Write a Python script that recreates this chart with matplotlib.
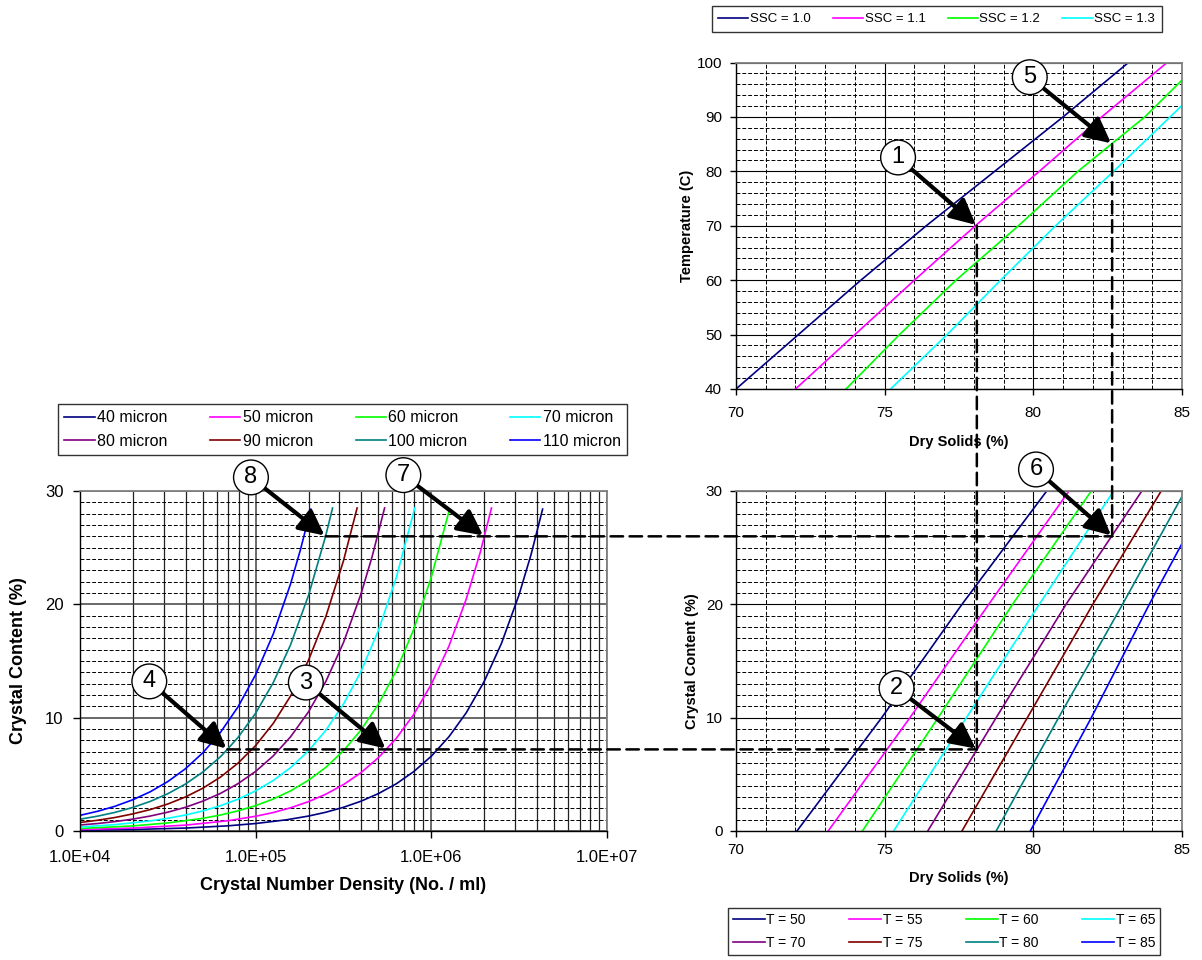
import numpy as np
import matplotlib
matplotlib.use('Agg')
import matplotlib.pyplot as plt
from matplotlib.patches import ConnectionPatch
from matplotlib.ticker import MultipleLocator, FixedLocator, LogLocator, NullFormatter, FixedFormatter

plt.rcParams['font.family'] = ['Liberation Sans', 'DejaVu Sans']

# ---------------- data: Temperature vs Dry Solids (top right) ----------------
temp_levels = [40, 50, 60, 70, 80, 90, 100]
ssc_labels = ['SSC = 1.0', 'SSC = 1.1', 'SSC = 1.2', 'SSC = 1.3']
ds_ssc_10 = [70.0, 72.1, 74.2, 76.4, 78.7, 81.0, 83.2]
ds_ssc_11 = [72.0, 74.0, 76.0, 78.05, 80.2, 82.3, 84.5]
ds_ssc_12 = [73.7, 75.5, 77.4, 79.5, 81.5, 83.75, 85.6]
ds_ssc_13 = [75.2, 77.1, 78.9, 80.75, 82.7, 84.6, 86.5]
ssc_colors = ['#000080', '#FF00FF', '#00FF00', '#00FFFF']

# ---------------- data: Crystal content vs Dry Solids (bottom right) ----------------
cc_levels = [0, 10, 20, 30]
t_labels = ['T = 50', 'T = 55', 'T = 60', 'T = 65', 'T = 70', 'T = 75', 'T = 80', 'T = 85']
ds_t50 = [72.05, 74.9, 77.6, 80.45]
ds_t55 = [73.1, 75.85, 78.5, 81.2]
ds_t60 = [74.25, 76.8, 79.3, 81.95]
ds_t65 = [75.3, 77.75, 80.2, 82.7]
ds_t70 = [76.45, 78.75, 81.1, 83.65]
ds_t75 = [77.6, 79.8, 82.0, 84.3]
ds_t80 = [78.75, 80.85, 83.0, 85.1]
ds_t85 = [79.9, 81.95, 83.9, 85.95]

# ---------------- data: Crystal content vs number density (left) ----------------
size_labels = ['40 micron', '50 micron', '60 micron', '70 micron',
               '80 micron', '90 micron', '100 micron', '110 micron']
n_40 = [1e4, 2e4, 4e4, 7e4, 1e5, 1.5e5, 2e5, 2.5e5, 3.16e5, 3.98e5, 5.01e5, 6.31e5,
        7.94e5, 1e6, 1.26e6, 1.58e6, 2e6, 2.51e6, 3.16e6, 3.7e6, 4.3e6]
cc_40 = [0.07, 0.13, 0.26, 0.46, 0.66, 0.99, 1.32, 1.65, 2.09, 2.63, 3.31, 4.16,
         5.24, 6.6, 8.32, 10.43, 13.2, 16.57, 20.86, 24.42, 28.4]
n_50 = [1e4, 2e4, 4e4, 7e4, 1e5, 1.26e5, 1.58e5, 2e5, 2.51e5, 3.16e5, 3.98e5, 5.01e5,
        6.31e5, 7.94e5, 1e6, 1.26e6, 1.58e6, 1.9e6, 2.2e6]
cc_50 = [0.13, 0.26, 0.52, 0.91, 1.3, 1.63, 2.05, 2.59, 3.25, 4.09, 5.15, 6.49,
         8.17, 10.28, 12.95, 16.32, 20.46, 24.6, 28.5]
n_60 = [1e4, 2e4, 3.16e4, 5.01e4, 6.31e4, 7.94e4, 1e5, 1.26e5, 1.58e5, 2e5, 2.51e5,
        3.16e5, 3.98e5, 5.01e5, 6.31e5, 7.94e5, 1e6, 1.27e6]
cc_60 = [0.22, 0.45, 0.71, 1.12, 1.41, 1.78, 2.24, 2.82, 3.54, 4.48, 5.62,
         7.08, 8.92, 11.22, 14.13, 17.79, 22.4, 28.4]
n_70 = [1e4, 1.58e4, 2.51e4, 3.16e4, 3.98e4, 5.01e4, 6.31e4, 7.94e4, 1e5, 1.26e5,
        1.58e5, 2e5, 2.51e5, 3.16e5, 3.98e5, 5.01e5, 6.31e5, 8.05e5]
cc_70 = [0.35, 0.56, 0.89, 1.12, 1.41, 1.77, 2.23, 2.81, 3.54, 4.46,
         5.59, 7.08, 8.89, 11.19, 14.09, 17.74, 22.34, 28.5]
n_80 = [1e4, 1.26e4, 1.58e4, 2e4, 2.51e4, 3.16e4, 3.98e4, 5.01e4, 6.31e4, 7.94e4,
        1e5, 1.26e5, 1.58e5, 2e5, 2.51e5, 3.16e5, 3.98e5, 4.6e5, 5.42e5]
cc_80 = [0.53, 0.66, 0.83, 1.05, 1.32, 1.66, 2.09, 2.64, 3.32, 4.18,
         5.26, 6.63, 8.31, 10.52, 13.2, 16.62, 20.93, 24.2, 28.5]
n_90 = [1e4, 1.26e4, 1.58e4, 2e4, 2.51e4, 3.16e4, 3.98e4, 5.01e4, 6.31e4, 7.94e4,
        1e5, 1.26e5, 1.58e5, 2e5, 2.51e5, 3.16e5, 3.78e5]
cc_90 = [0.75, 0.95, 1.19, 1.51, 1.89, 2.38, 3.0, 3.78, 4.76, 5.99,
         7.54, 9.5, 11.91, 15.08, 18.93, 23.83, 28.5]
n_100 = [1e4, 1.26e4, 1.58e4, 2e4, 2.51e4, 3.16e4, 3.98e4, 5.01e4, 6.31e4, 6.9e4,
         7.94e4, 1e5, 1.26e5, 1.58e5, 2e5, 2.5e5, 2.74e5]
cc_100 = [1.04, 1.31, 1.64, 2.08, 2.61, 3.29, 4.14, 5.21, 6.56, 7.2,
          8.26, 10.4, 13.1, 16.43, 20.8, 26.0, 28.5]
n_110 = [1e4, 1.26e4, 1.58e4, 2e4, 2.51e4, 3.16e4, 3.98e4, 5.01e4, 6.31e4, 7.94e4,
         1e5, 1.26e5, 1.58e5, 1.8e5, 2.06e5]
cc_110 = [1.38, 1.74, 2.18, 2.76, 3.46, 4.36, 5.49, 6.91, 8.71, 10.96,
          13.8, 17.39, 21.8, 24.84, 28.4]
series_colors = ['#000080', '#FF00FF', '#00FF00', '#00FFFF',
                 '#800080', '#800000', '#008080', '#0000FF']
density_ticks = [1e4, 1e5, 1e6, 1e7]
density_tick_labels = ['1.0E+04', '1.0E+05', '1.0E+06', '1.0E+07']

# ---------------- worked example (callouts) ----------------
ds_a, t_a, cc_a = 78.1, 70, 7.2       # points 1,2
ds_b, t_b, cc_b = 82.65, 85, 26.0     # points 5,6
n_3, n_4 = 5.56e5, 6.9e4              # points 3,4
n_7, n_8 = 2.0e6, 2.5e5               # points 7,8

W, H = 1202, 960
fig = plt.figure(figsize=(W / 100, H / 100), dpi=100)


def frac(x0, y0, x1, y1):
    return [x0 / W, 1 - y1 / H, (x1 - x0) / W, (y1 - y0) / H]


ax_l = fig.add_axes(frac(80, 491, 607, 831))
ax_t = fig.add_axes(frac(736, 62.5, 1182, 389))
ax_b = fig.add_axes(frac(736, 491, 1182, 831))

GREY = '#808080'


def spines(ax):
    for s in ['top', 'right']:
        ax.spines[s].set_color(GREY)
        ax.spines[s].set_linewidth(1.3)
    for s in ['left', 'bottom']:
        ax.spines[s].set_color('black')
        ax.spines[s].set_linewidth(1.0)


def style_right(ax, ylim, ymajor, yminor, xpad, ypad):
    ax.set_xlim(70, 85)
    ax.set_ylim(*ylim)
    ax.xaxis.set_major_locator(MultipleLocator(5))
    ax.xaxis.set_minor_locator(MultipleLocator(1))
    ax.yaxis.set_major_locator(MultipleLocator(ymajor))
    ax.yaxis.set_minor_locator(MultipleLocator(yminor))
    ax.grid(which='major', color='black', lw=0.8, ls='-')
    ax.grid(which='minor', color='black', lw=0.7, ls=(0, (4, 2)))
    ax.tick_params(which='minor', length=0)
    ax.tick_params(which='major', direction='out', length=4, width=1, labelsize=11)
    ax.tick_params(axis='x', pad=xpad)
    ax.tick_params(axis='y', pad=ypad)
    ax.set_axisbelow(True)
    spines(ax)


# ---------------- top right ----------------
for ds, c, lab in zip([ds_ssc_10, ds_ssc_11, ds_ssc_12, ds_ssc_13], ssc_colors, ssc_labels):
    ax_t.plot(ds, temp_levels, color=c, lw=1.2, label=lab)
style_right(ax_t, (40, 100), 10, 2, 8, 6)
ax_t.set_xlabel('Dry Solids (%)', fontsize=10.5, fontweight='bold')
ax_t.xaxis.set_label_coords(0.5, -0.162)
ax_t.xaxis.label.set_va('center')
ax_t.set_ylabel('Temperature (C)', fontsize=10.5, fontweight='bold')
ax_t.yaxis.set_label_coords(-0.110, 0.5)
ax_t.yaxis.label.set_va('center')
ax_t.yaxis.label.set_ha('center')

# ---------------- bottom right ----------------
t_series = [ds_t50, ds_t55, ds_t60, ds_t65, ds_t70, ds_t75, ds_t80, ds_t85]
b_handles = []
for ds, c, lab in zip(t_series, series_colors, t_labels):
    ln, = ax_b.plot(ds, cc_levels, color=c, lw=1.2, label=lab)
    b_handles.append(ln)
style_right(ax_b, (0, 30), 10, 1, 5, 5.5)
ax_b.set_xlabel('Dry Solids (%)', fontsize=10.5, fontweight='bold')
ax_b.xaxis.set_label_coords(0.5, -0.138)
ax_b.xaxis.label.set_va('center')
ax_b.set_ylabel('Crystal Content (%)', fontsize=10.5, fontweight='bold')
ax_b.yaxis.set_label_coords(-0.099, 0.5)
ax_b.yaxis.label.set_va('center')
ax_b.yaxis.label.set_ha('center')

# ---------------- left ----------------
l_n = [n_40, n_50, n_60, n_70, n_80, n_90, n_100, n_110]
l_cc = [cc_40, cc_50, cc_60, cc_70, cc_80, cc_90, cc_100, cc_110]
l_handles = []
for n, cc, c, lab in zip(l_n, l_cc, series_colors, size_labels):
    ln, = ax_l.plot(n, cc, color=c, lw=1.2, label=lab)
    l_handles.append(ln)
ax_l.set_xscale('log')
ax_l.set_xlim(1e4, 1e7)
ax_l.set_ylim(0, 30)
ax_l.xaxis.set_major_locator(FixedLocator(density_ticks))
ax_l.xaxis.set_major_formatter(FixedFormatter(density_tick_labels))
ax_l.xaxis.set_minor_locator(LogLocator(base=10, subs=np.arange(2, 10)))
ax_l.xaxis.set_minor_formatter(NullFormatter())
ax_l.yaxis.set_major_locator(MultipleLocator(10))
ax_l.yaxis.set_minor_locator(MultipleLocator(1))
ax_l.xaxis.grid(which='major', color='#606060', lw=1.3, ls='-')
ax_l.xaxis.grid(which='minor', color='#222222', lw=0.9, ls='-')
ax_l.yaxis.grid(which='major', color='#404040', lw=1.1, ls='-')
ax_l.yaxis.grid(which='minor', color='black', lw=0.7, ls=(0, (4, 2)))
ax_l.tick_params(which='minor', length=0)
ax_l.tick_params(which='major', direction='out', length=5, width=1, labelsize=12)
ax_l.tick_params(axis='x', pad=9)
ax_l.tick_params(axis='y', pad=7)
ax_l.set_axisbelow(True)
spines(ax_l)
ax_l.set_xlabel('Crystal Number Density (No. / ml)', fontsize=13, fontweight='bold')
ax_l.xaxis.set_label_coords(0.5, -0.159)
ax_l.xaxis.label.set_va('center')
ax_l.set_ylabel('Crystal Content (%)', fontsize=13, fontweight='bold')
ax_l.yaxis.set_label_coords(-0.116, 0.5)
ax_l.yaxis.label.set_va('center')
ax_l.yaxis.label.set_ha('center')

# ---------------- legends ----------------
def order_rows(items):
    out = []
    for i in range(4):
        out.append(items[i])
        out.append(items[i + 4])
    return out


leg_t = ax_t.legend(ncol=4, mode='expand', loc='center',
                    bbox_to_anchor=(711.5 / W, 1 - 34 / H, 450 / W, 30 / H),
                    bbox_transform=fig.transFigure, fontsize=9.5, frameon=True,
                    fancybox=False, edgecolor='black', borderpad=0.5,
                    handlelength=2.3, handletextpad=0.1, borderaxespad=0)
leg_t.get_frame().set_linewidth(1.0)

leg_l = ax_l.legend(order_rows(l_handles), order_rows(size_labels), ncol=4, mode='expand',
                    loc='center', bbox_to_anchor=(58 / W, 1 - 459 / H, 569 / W, 59 / H),
                    bbox_transform=fig.transFigure, fontsize=11.5, frameon=True,
                    fancybox=False, edgecolor='black', borderpad=0.4, labelspacing=0.55,
                    handlelength=1.9, handletextpad=0.15, borderaxespad=0)
leg_l.get_frame().set_linewidth(1.0)

leg_b = ax_b.legend(order_rows(b_handles), order_rows(t_labels), ncol=4, mode='expand',
                    loc='center', bbox_to_anchor=(728 / W, 1 - 957 / H, 432 / W, 51 / H),
                    bbox_transform=fig.transFigure, fontsize=10, frameon=True,
                    fancybox=False, edgecolor='black', borderpad=0.35, labelspacing=0.6,
                    handlelength=2.3, handletextpad=0.1, borderaxespad=0)
leg_b.get_frame().set_linewidth(1.0)

# ---------------- callouts ----------------
def callout(ax, label, tip, center):
    ax.annotate(label, xy=tip, xytext=center, xycoords='data', textcoords='data',
                fontsize=17, ha='center', va='center', zorder=10, annotation_clip=False,
                bbox=dict(boxstyle='circle,pad=0.27', fc='white', ec='black', lw=1),
                arrowprops=dict(arrowstyle='-|>,head_length=0.9,head_width=0.45', lw=3,
                                color='black', shrinkA=0, shrinkB=1, mutation_scale=17))


callout(ax_t, '1', (ds_a, t_a), (75.45, 82.55))
callout(ax_t, '5', (ds_b, t_b), (79.88, 97.3))
callout(ax_b, '2', (ds_a, cc_a), (75.4, 12.6))
callout(ax_b, '6', (ds_b, cc_b), (80.09, 31.9))
callout(ax_l, '4', (n_4, cc_a), (2.48e4, 13.2))
callout(ax_l, '3', (n_3, cc_a), (1.93e5, 13.1))
callout(ax_l, '8', (n_8, cc_b), (9.4e4, 31.2))
callout(ax_l, '7', (n_7, cc_b), (6.93e5, 31.4))

# ---------------- dashed connectors ----------------
dash = (0, (5, 2.6))
for xyA, axA, xyB, axB in [((n_4, cc_a), ax_l, (ds_a, cc_a), ax_b),
                           ((n_8, cc_b), ax_l, (ds_b, cc_b), ax_b),
                           ((ds_a, t_a), ax_t, (ds_a, cc_a), ax_b),
                           ((ds_b, t_b), ax_t, (ds_b, cc_b), ax_b)]:
    con = ConnectionPatch(xyA=xyA, coordsA=axA.transData, xyB=xyB, coordsB=axB.transData,
                          color='black', lw=1.8, ls=dash, zorder=3)
    fig.add_artist(con)

fig.savefig('out.png', dpi=100)
